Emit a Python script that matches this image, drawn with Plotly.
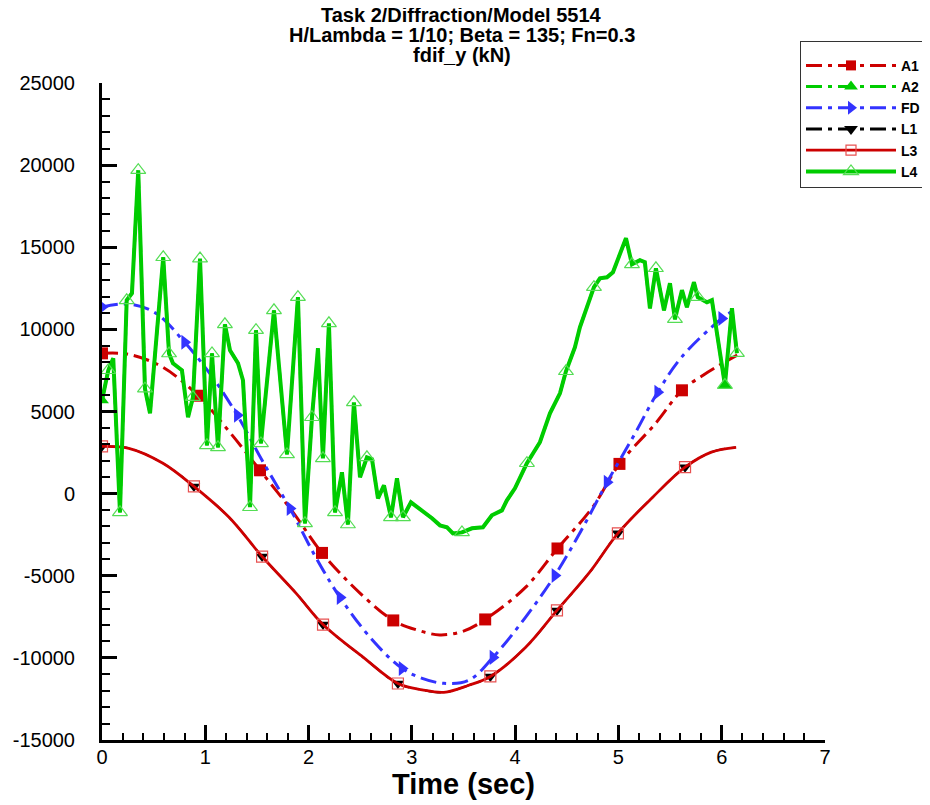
import plotly.graph_objects as go

# ---------------- data ----------------
a1_t = [0.0, 0.26, 0.59, 0.93, 1.23, 1.53, 1.85, 2.13, 2.5, 2.82, 3.05, 3.27, 3.5, 3.71,
        4.1, 4.41, 4.75, 5.01, 5.36, 5.615, 5.82, 6.0, 6.15]
a1_v = [8540, 8480, 7690, 5960, 3790, 1420, -1140, -3610, -6070, -7720, -8300, -8600, -8370, -7660,
        -5710, -3340, -830, 1810, 4280, 6290, 7210, 7900, 8430]
a1_marks = [0, 3, 5, 7, 9, 13, 15, 17, 19]

fd_t = [0.0, 0.26, 0.52, 0.80, 1.07, 1.31, 1.55, 1.82, 2.07, 2.305, 2.62, 2.905, 3.1, 3.31, 3.55,
        3.785, 4.1, 4.385, 4.64, 4.89, 5.15, 5.38, 5.61, 6.0, 6.12]
fd_v = [11360, 11540, 10990, 9210, 7090, 4770, 2030, -900, -3880, -6320, -8930, -10640, -11250, -11550, -11370,
        -9970, -7530, -4980, -2240, 690, 3540, 6170, 8300, 10660, 11160]
fd_marks = [0, 3, 5, 7, 9, 11, 15, 17, 19, 21, 23]

l3_t = [0.0, 0.26, 0.59, 0.89, 1.23, 1.55, 1.88, 2.14, 2.53, 2.865, 3.1, 3.31, 3.55, 3.76,
        4.1, 4.405, 4.72, 4.995, 5.33, 5.645, 5.9, 6.14]
l3_v = [2880, 2760, 1850, 440, -1440, -3830, -6070, -7970, -9970, -11560, -11950, -12100, -11670, -11130,
        -9370, -7110, -4800, -2420, -230, 1610, 2530, 2820]
l3_marks = [0, 3, 5, 7, 9, 13, 15, 17, 19]

# L1 coincides with L3
l1_t = list(l3_t)
l1_v = list(l3_v)
l1_marks = list(l3_marks)

l4_t = [0.0, 0.061, 0.109, 0.174, 0.239, 0.29, 0.351, 0.416, 0.465, 0.593,
        0.649, 0.687, 0.774, 0.833, 0.881, 0.949, 1.016, 1.065, 1.123, 1.19,
        1.239, 1.317, 1.365, 1.433, 1.491, 1.539, 1.665, 1.791, 1.897, 1.965,
        2.033, 2.091, 2.139, 2.197, 2.256, 2.323, 2.381, 2.439, 2.498, 2.565,
        2.614, 2.672, 2.73, 2.798, 2.856, 2.914, 2.991, 3.098, 3.195, 3.272,
        3.34, 3.398, 3.485, 3.582, 3.688, 3.775, 3.872, 3.92, 3.998, 4.114,
        4.24, 4.337, 4.434, 4.492, 4.579, 4.627, 4.763, 4.821, 4.889, 4.947,
        5.073, 5.131, 5.208, 5.256, 5.305, 5.363, 5.441, 5.499, 5.547, 5.615,
        5.663, 5.731, 5.768, 5.857, 5.905, 6.031, 6.099, 6.147]
l4_v = [5680, 7510, 8240, -1140, 11770, 12200, 19690, 6390, 4890, 14390,
        8530, 7940, 7510, 4650, 5870, 14310, 2940, 8540, 2820, 10310,
        8730, 7940, 6900, -830, 9950, 3060, 11160, 2390, 11960, -1810,
        4650, 8850, 2150, 10370, -1140, 1300, -1880, 5560, 990, 2210,
        2090, -290, 500, -1440, 930, -1440, -530, -1020, -1500, -1930,
        -2050, -2420, -2360, -2110, -2050, -1320, -1020, -410, 320, 1850,
        3130, 4890, 6110, 7450, 8910, 10130, 12570, 13110, 13170, 13480,
        15550, 13960, 14210, 14090, 11280, 13720, 11160, 12810, 10620, 12390,
        11350, 12870, 11960, 11650, 11780, 6610, 11290, 8550]
l4_marks = [1, 3, 4, 6, 7, 9, 10, 14, 15, 16, 17, 18, 19, 23, 24, 25, 26, 27, 28, 29,
            30, 32, 33, 34, 36, 37, 39, 43, 45, 52, 59, 63, 66, 71, 75, 78, 82, 85, 87]

# A2 lies under L4
a2_t = list(l4_t)
a2_v = list(l4_v)
a2_marks = [0, 85]

y_tickvals = [-15000, -10000, -5000, 0, 5000, 10000, 15000, 20000, 25000]
y_ticktext = ["-15000", "-10000", "-5000", "0", "5000", "10000", "15000", "20000", "25000"]
x_tickvals = [0, 1, 2, 3, 4, 5, 6, 7]

title_lines = ["Task 2/Diffraction/Model 5514",
               "H/Lambda = 1/10; Beta = 135; Fn=0.3",
               "fdif_y (kN)"]

# ---------------- styles ----------------
RED = "#cc0000"
GREEN = "#00cc00"
BLUE = "#3333ff"
BLACK = "#000000"
DASHDOT = "16px,6px,4px,6px"
FONT = "Arial, Liberation Sans"

series = [
    dict(name="A1", t=a1_t, v=a1_v, marks=a1_marks, color=RED, dash=DASHDOT, width=3, shape="spline",
         marker=dict(symbol="square", size=12, color=RED), legend_size=10),
    dict(name="A2", t=a2_t, v=a2_v, marks=a2_marks, color=GREEN, dash=DASHDOT, width=3, shape="linear",
         marker=dict(symbol="triangle-up", size=12, color=GREEN), legend_size=12),
    dict(name="FD", t=fd_t, v=fd_v, marks=fd_marks, color=BLUE, dash=DASHDOT, width=3, shape="spline",
         marker=dict(symbol="triangle-right", size=13, color=BLUE), legend_size=12),
    dict(name="L1", t=l1_t, v=l1_v, marks=l1_marks, color=BLACK, dash=DASHDOT, width=2, shape="spline",
         marker=dict(symbol="triangle-down", size=11, color=BLACK), legend_size=12, legend_width=3),
    dict(name="L3", t=l3_t, v=l3_v, marks=l3_marks, color=RED, dash="solid", width=2.8, shape="spline",
         marker=dict(symbol="square-open", size=11, color="#e85050", line=dict(width=1.2, color="#e85050")),
         legend_size=10),
    dict(name="L4", t=l4_t, v=l4_v, marks=l4_marks, color=GREEN, dash="solid", width=4, shape="linear",
         marker=dict(symbol="triangle-up-open", size=13, color="#55dd55", line=dict(width=1.2, color="#55dd55")),
         legend_size=13),
]

fig = go.Figure()
for s in series:
    fig.add_trace(go.Scatter(
        x=s["t"], y=s["v"], mode="lines", showlegend=False, hoverinfo="skip",
        line=dict(color=s["color"], width=s["width"], dash=s["dash"], shape=s["shape"], smoothing=1.0),
    ))
    fig.add_trace(go.Scatter(
        x=[s["t"][i] for i in s["marks"]], y=[s["v"][i] for i in s["marks"]],
        mode="markers", showlegend=False, marker=s["marker"],
    ))
# legend entries
for s in series:
    m = dict(s["marker"])
    m["size"] = s["legend_size"]
    fig.add_trace(go.Scatter(
        x=[None], y=[None], mode="lines+markers", name="<b>%s</b>" % s["name"],
        line=dict(color=s.get("color"), width=s.get("legend_width", s["width"]), dash=s["dash"]), marker=m,
    ))

# The page body adds an 8px offset; lay the figure out in window pixels minus that offset.
OFF = 8
W, H = 930 - OFF, 805 - OFF
PL, PR, PT, PB = 102 - OFF, 930 - 825, 83 - OFF, 805 - 740
ph = H - PT - PB
pw = W - PL - PR

for i, txt in enumerate(title_lines):
    ypx = 15 + 20 * i - OFF
    fig.add_annotation(text="<b>%s</b>" % txt, xref="paper", yref="paper",
                       x=(461.5 - OFF - PL) / pw, y=(H - PB - ypx) / ph,
                       xanchor="center", yanchor="middle", showarrow=False,
                       font=dict(family=FONT, size=20, color="black"))

axis_common = dict(showline=True, linewidth=3, linecolor="black", mirror=False, automargin=False,
                   showgrid=False, zeroline=False, ticks="inside", tickwidth=3, tickcolor="black",
                   tickfont=dict(family=FONT, size=20, color="black"))

fig.update_layout(
    width=W, height=H,
    margin=dict(l=PL, r=PR, t=PT, b=PB, autoexpand=False),
    paper_bgcolor="white", plot_bgcolor="white",
    xaxis=dict(range=[0, 7], tickmode="array", tickvals=x_tickvals, ticklen=15,
               minor=dict(ticks="inside", dtick=0.2, tick0=0, ticklen=7, tickwidth=1.5, tickcolor="black"),
               title=dict(text="<b>Time (sec)</b>", font=dict(family=FONT, size=29, color="black"),
                          standoff=0),
               ticklabelstandoff=-3, **axis_common),
    yaxis=dict(range=[-15000, 25000], tickmode="array", tickvals=y_tickvals, ticktext=y_ticktext, ticklen=15,
               minor=dict(ticks="inside", dtick=1000, tick0=0, ticklen=8, tickwidth=1.5, tickcolor="black"),
               ticklabelstandoff=20, **axis_common),
    legend=dict(x=(800 - OFF - PL) / pw, y=(H - PB - (41 - OFF)) / ph, xanchor="left", yanchor="top",
                bgcolor="white", bordercolor="#333333", borderwidth=1, itemwidth=90,
                font=dict(family=FONT, size=14, color="black"),
                title=dict(text=" ", font=dict(size=6))),
    showlegend=True,
)

fig.write_html("out.html")
